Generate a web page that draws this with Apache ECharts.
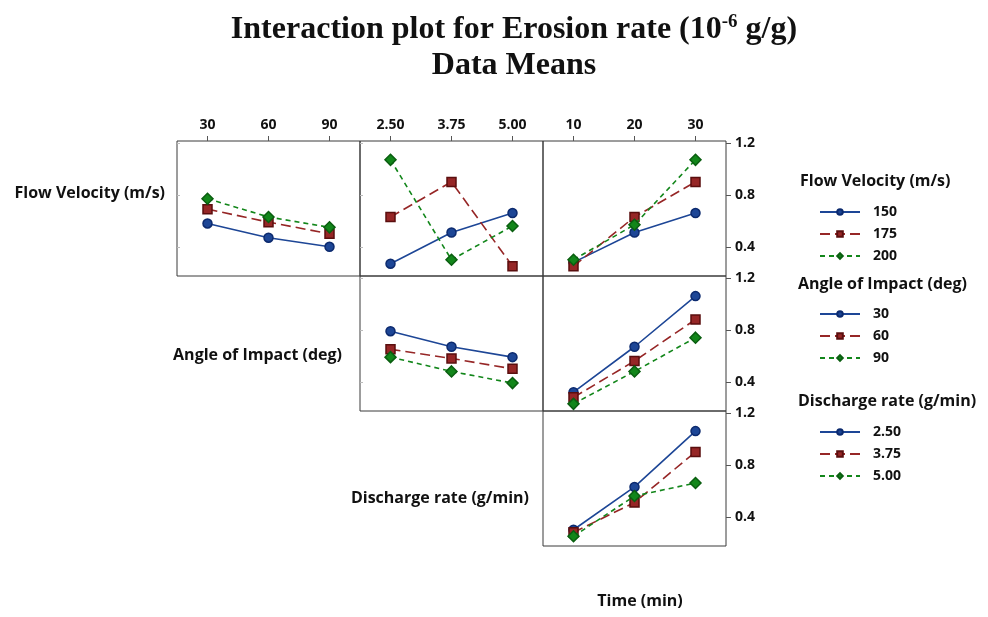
<!DOCTYPE html>
<html>
<head>
<meta charset="utf-8">
<title>Interaction plot for Erosion rate</title>
<script src="https://cdn.jsdelivr.net/npm/echarts@6/dist/echarts.min.js"></script>
<style>
  html, body { margin: 0; padding: 0; background: #ffffff; }
  #chart { width: 988px; height: 617px; }
</style>
</head>
<body>
<div id="chart"></div>
<script>
// Factor levels (x-axis categories and legend entries)
const angleTicks = ['30', '60', '90'];
const dischargeTicks = ['2.50', '3.75', '5.00'];
const timeTicks = ['10', '20', '30'];

const flowLevels = ['150', '175', '200'];
const angleLevels = ['30', '60', '90'];
const dischargeLevels = ['2.50', '3.75', '5.00'];

const yTicks = [0.4, 0.8, 1.2];

// Mean erosion rate, one row per level of the trace factor
const flowByAngle = [
  [0.58, 0.47, 0.40],
  [0.69, 0.59, 0.50],
  [0.77, 0.63, 0.55]
];
const flowByDischarge = [
  [0.27, 0.51, 0.66],
  [0.63, 0.90, 0.25],
  [1.07, 0.30, 0.56]
];
const flowByTime = [
  [0.28, 0.51, 0.66],
  [0.25, 0.63, 0.90],
  [0.30, 0.57, 1.07]
];
const angleByDischarge = [
  [0.79, 0.67, 0.59],
  [0.65, 0.58, 0.50],
  [0.59, 0.48, 0.39]
];
const angleByTime = [
  [0.32, 0.67, 1.06],
  [0.28, 0.56, 0.88],
  [0.23, 0.48, 0.74]
];
const dischargeByTime = [
  [0.30, 0.63, 1.06],
  [0.28, 0.51, 0.90],
  [0.25, 0.56, 0.66]
];

// Appearance of the three traces
const lineColors = ['#1d4696', '#962626', '#12861a'];
const borderColors = ['#0c2a6e', '#5a0e0e', '#0a5e10'];
const symbols = ['circle', 'rect', 'diamond'];
const symbolSizes = [9, 9, 11];
const dashes = ['solid', [10, 5], [5, 4]];

const labelFont = 'Open Sans';
const Y_MIN = 0.175, Y_MAX = 1.215;

// Panel geometry: three columns, three rows (upper triangle only)
const colLeft = [177, 360, 543];
const colWidth = 183;
const rowTop = [141, 276, 411];
const rowHeight = 135;

const panels = [
  { row: 0, col: 0, ticks: angleTicks, levels: flowLevels, values: flowByAngle },
  { row: 0, col: 1, ticks: dischargeTicks, levels: flowLevels, values: flowByDischarge },
  { row: 0, col: 2, ticks: timeTicks, levels: flowLevels, values: flowByTime },
  { row: 1, col: 1, ticks: dischargeTicks, levels: angleLevels, values: angleByDischarge },
  { row: 1, col: 2, ticks: timeTicks, levels: angleLevels, values: angleByTime },
  { row: 2, col: 2, ticks: timeTicks, levels: dischargeLevels, values: dischargeByTime }
];

const grids = [], xAxes = [], yAxes = [], series = [];

panels.forEach((p, gi) => {
  grids.push({
    left: colLeft[p.col], top: rowTop[p.row],
    width: colWidth, height: rowHeight,
    show: true, borderColor: '#3a3a3a', borderWidth: 1,
    backgroundColor: 'transparent', containLabel: false
  });
  const topRow = p.row === 0;
  const lastCol = p.col === 2;
  xAxes.push({
    gridIndex: gi, type: 'category', data: p.ticks, boundaryGap: true,
    position: 'top',
    axisLine: { show: false },
    splitLine: { show: false },
    axisTick: {
      show: topRow, alignWithLabel: true, length: 5, inside: false,
      lineStyle: { color: '#555', width: 1 }
    },
    axisLabel: {
      show: topRow, margin: 9, color: '#111',
      fontFamily: labelFont, fontWeight: 'bold', fontSize: 14
    }
  });
  yAxes.push({
    gridIndex: gi, type: 'value', min: Y_MIN, max: Y_MAX,
    position: lastCol ? 'right' : 'left',
    axisLine: { show: false },
    splitLine: { show: false },
    axisTick: {
      show: true, customValues: yTicks, inside: !lastCol, length: lastCol ? 5 : 3,
      lineStyle: { color: lastCol ? '#555' : '#bbb', width: 1 }
    },
    axisLabel: {
      show: lastCol, customValues: yTicks, margin: 9, color: '#111',
      fontFamily: labelFont, fontWeight: 'bold', fontSize: 14,
      formatter: v => v.toFixed(1)
    }
  });
  p.levels.forEach((lvl, i) => {
    series.push({
      type: 'line', name: lvl, xAxisIndex: gi, yAxisIndex: gi,
      data: p.values[i],
      symbol: symbols[i], symbolSize: symbolSizes[i],
      showAllSymbol: true, animation: false, z: 3 + i,
      color: lineColors[i],
      lineStyle: { color: lineColors[i], width: 1.6, type: dashes[i] },
      itemStyle: { color: lineColors[i], borderColor: borderColors[i], borderWidth: 1.5 }
    });
  });
});

function legendBlock(levels, top) {
  return {
    data: levels, orient: 'vertical', left: 814, top: top,
    itemWidth: 40, itemHeight: 7, itemGap: 8, selectedMode: false,
    textStyle: {
      fontFamily: labelFont, fontWeight: 'bold', fontSize: 14, lineHeight: 14,
      color: '#111', padding: [0, 0, 0, 8]
    }
  };
}

const headerStyle = (text, x, y, align) => ({
  type: 'text', x: x, y: y,
  style: {
    text: text, fill: '#111', font: 'bold 16px "' + labelFont + '"',
    textAlign: align || 'left', textVerticalAlign: 'middle'
  }
});

const chart = echarts.init(document.getElementById('chart'), null, { renderer: 'canvas' });
chart.setOption({
  backgroundColor: '#ffffff',
  animation: false,
  title: {
    text: '{a|Interaction plot for Erosion rate (10}{s|-6}{a| g/g)}\n{a|Data Means}',
    left: 509, top: 7, textAlign: 'center',
    textStyle: {
      rich: {
        a: { fontFamily: 'Liberation Serif', fontWeight: 'bold', fontSize: 32, lineHeight: 36, color: '#111' },
        s: { fontFamily: 'Liberation Serif', fontWeight: 'bold', fontSize: 19, lineHeight: 36, color: '#111', padding: [0, 0, 15, 0] }
      }
    }
  },
  grid: grids,
  xAxis: xAxes,
  yAxis: yAxes,
  legend: [
    legendBlock(flowLevels, 200),
    legendBlock(angleLevels, 302),
    legendBlock(dischargeLevels, 420)
  ],
  graphic: [
    headerStyle('Flow Velocity (m/s)', 165, 193, 'right'),
    headerStyle('Angle of Impact (deg)', 342, 355, 'right'),
    headerStyle('Discharge rate (g/min)', 529, 498, 'right'),
    headerStyle('Time (min)', 640, 601, 'center'),
    headerStyle('Flow Velocity (m/s)', 800, 181),
    headerStyle('Angle of Impact (deg)', 798, 284),
    headerStyle('Discharge rate (g/min)', 798, 401)
  ],
  series: series
});
</script>
</body>
</html>
